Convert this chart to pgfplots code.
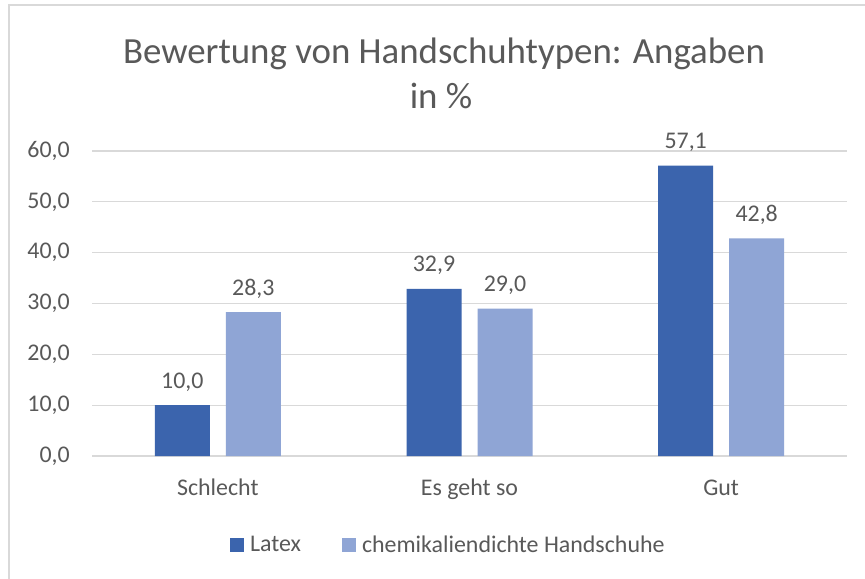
\documentclass[border=0pt]{standalone}
\usepackage{pgfplots}
\pgfplotsset{compat=1.18}
\usepackage{fontspec}
\setmainfont{Carlito}
\definecolor{latexblue}{HTML}{3B64AD}
\definecolor{chemblue}{HTML}{8FA5D5}
\definecolor{gridgray}{HTML}{D9D9D9}
\definecolor{txt}{HTML}{595959}
\begin{document}
\begin{tikzpicture}
\useasboundingbox (0bp,0bp) rectangle (865bp,-579bp);
\fill[white] (0bp,0bp) rectangle (865bp,-579bp);
\draw[gridgray, line width=2.5bp] (9bp,-579bp) -- (9bp,-5bp) -- (865bp,-5bp);
\node[anchor=base, inner sep=0pt, font=\fontsize{37}{44}\selectfont, text=txt] at (444bp,-63bp) {Bewertung von Handschuhtypen: Angaben};
\node[anchor=base, inner sep=0pt, font=\fontsize{37}{44}\selectfont, text=txt] at (441bp,-108bp) {in \%};
\begin{axis}[
  at={(92bp,-456bp)}, anchor=south west,
  scale only axis, width=755bp, height=305bp,
  ybar=16bp, bar width=55bp,
  xmin=-0.5, xmax=2.5, ymin=0, ymax=60,
  xtick={0,1,2}, xticklabels={Schlecht, Es geht so, Gut},
  ytick={0,10,20,30,40,50,60},
  major tick length=0pt,
  axis line style={draw=none},
  ymajorgrids, grid style={gridgray, line width=1.3bp},
  clip=false,
  /pgf/number format/.cd, fixed, fixed zerofill, precision=1, use comma, assume math mode=true,
  /pgfplots/.cd,
  yticklabel style={anchor=east, inner sep=0pt, xshift=-22bp, font=\fontsize{24}{28}\selectfont, text=txt},
  xticklabel style={anchor=base, inner sep=0pt, yshift=-39bp, font=\fontsize{24}{28}\selectfont, text=txt},
  nodes near coords,
  every node near coord/.append style={anchor=base, inner sep=0pt, yshift=17bp, font=\fontsize{24}{28}\selectfont, text=txt},
  legend columns=2,
  legend style={at={(axis description cs:0.472,-0.292)}, anchor=center, draw=none, fill=none,
    font=\fontsize{24}{28}\selectfont, text=txt,
    /tikz/every odd column/.append style={column sep=4bp},
    /tikz/every even column/.append style={column sep=39bp}},
  legend image code/.code={\fill[#1] (0bp,-7bp) rectangle (14bp,7bp);},
]
\addplot[fill=latexblue, draw=none] coordinates {(0,10.0) (1,32.9) (2,57.1)};
\addplot[fill=chemblue, draw=none] coordinates {(0,28.3) (1,29.0) (2,42.8)};
\legend{Latex, chemikaliendichte Handschuhe}
\end{axis}
\end{tikzpicture}
\end{document}
